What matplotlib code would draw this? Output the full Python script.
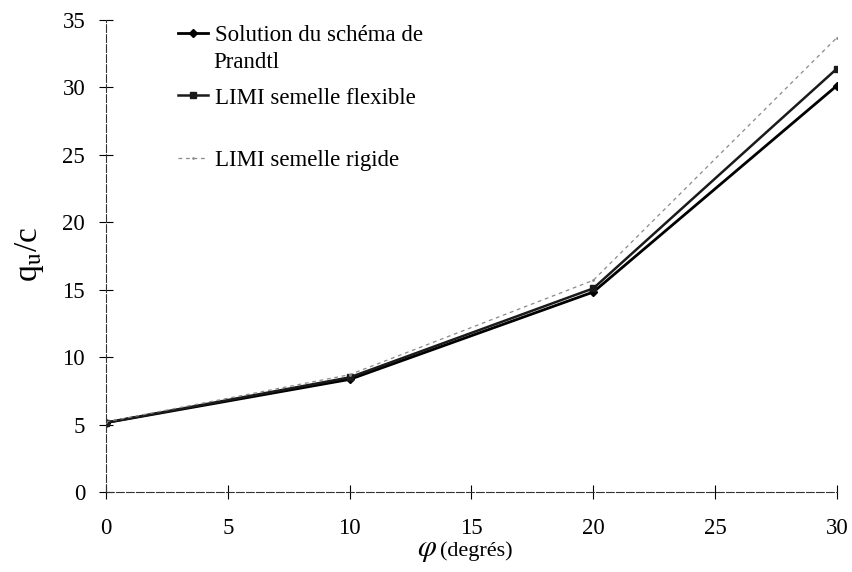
import matplotlib
matplotlib.use("Agg")
import matplotlib.pyplot as plt

phi = [0, 10, 20, 30]
prandtl = [5.14, 8.35, 14.83, 30.14]
limi_flexible = [5.14, 8.5, 15.1, 31.4]
limi_rigide = [5.2, 8.7, 15.7, 33.7]
labels = ["Solution du schéma de", "LIMI semelle flexible", "LIMI semelle rigide"]
label_cont = "Prandtl"

plt.rcParams['font.family'] = ['Liberation Serif', 'DejaVu Serif']
plt.rcParams['mathtext.fontset'] = 'stix'

W, H = 853, 572
fig = plt.figure(figsize=(W / 100, H / 100), dpi=100)
ax = fig.add_axes([106 / W, 1 - 492 / H, (837 - 106) / W, (492 - 20) / H])

l1, = ax.plot(phi, prandtl, color='black', lw=2.0, marker='D', ms=4)
l2, = ax.plot(phi, limi_flexible, color='#1a1a1a', lw=1.8, marker='s', ms=4.5)
l3, = ax.plot(phi, limi_rigide, color='#8a8a8a', lw=0.9, ls=(0, (3, 3)), marker='.', ms=2)

ax.set_xlim(0, 30)
ax.set_ylim(0, 35)
ax.set_xticks([0, 5, 10, 15, 20, 25, 30])
ax.set_yticks([0, 5, 10, 15, 20, 25, 30, 35])
for s in ['top', 'right']:
    ax.spines[s].set_visible(False)
for s in ['left', 'bottom']:
    ax.spines[s].set_linewidth(0.8)
    ax.spines[s].set_color('#333333')
    ax.spines[s].set_linestyle((0, (7, 2)))
ax.tick_params(direction='inout', length=10, width=0.8, labelsize=16.5)
ax.tick_params(axis='x', pad=14)
ax.tick_params(axis='y', pad=10)

ax.set_ylabel(r"q$_{\mathrm{u}}$/c", fontsize=24)
ax.yaxis.set_label_coords(46 / W, 1 - 254 / H, transform=fig.transFigure)
fig.text(427 / W, 1 - 550 / H, r"$\varphi$", fontsize=22, ha='center', va='center')
fig.text(440 / W, 1 - 551 / H, "(degrés)", fontsize=16, ha='left', va='center')

fs = 16.5
ys = [35, 98, 160]
for line, lab, y in zip([l1, l2, l3], labels, ys):
    fig.legend([line], [lab], loc='center left', bbox_to_anchor=(178 / W, 1 - y / H),
               frameon=False, fontsize=fs, borderpad=0, borderaxespad=0,
               handlelength=1.3, handletextpad=0.3, markerscale=0.9)
fig.text(213 / W, 1 - 63 / H, label_cont, fontsize=fs, ha='left', va='center')

fig.savefig("out.png", dpi=100)
